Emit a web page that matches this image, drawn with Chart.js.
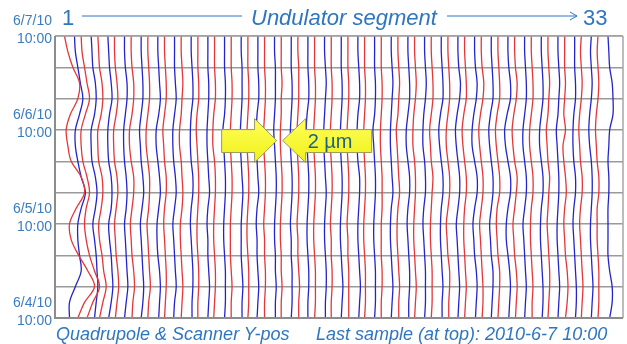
<!DOCTYPE html>
<html>
<head>
<meta charset="utf-8">
<script src="https://cdn.jsdelivr.net/npm/chart.js@4/dist/chart.umd.min.js"></script>
<style>
  html, body { margin: 0; padding: 0; background: #fff; }
  #wrap { position: relative; width: 627px; height: 344px; overflow: hidden; }
  #c { position: absolute; left: 0; top: 0; }
  .txt { position: absolute; white-space: nowrap; line-height: 1; color: #2e76c0;
         font-family: "Liberation Sans", Arial, sans-serif; }
  .it { font-style: italic; }
  svg { position: absolute; left: 0; top: 0; }
</style>
</head>
<body>
<div id="wrap">
  <canvas id="c" width="627" height="344"></canvas>
  <svg width="627" height="40">
    <line x1="82" y1="16" x2="242" y2="16" stroke="#2e76c0" stroke-width="1"/>
    <line x1="447" y1="16" x2="577" y2="16" stroke="#2e76c0" stroke-width="1"/>
    <polyline points="570,12 577,16 570,20" fill="none" stroke="#2e76c0" stroke-width="1"/>
  </svg>
  <span class="txt" style="left:62px; top:7px; font-size:22px;">1</span>
  <span class="txt it" style="left:251px; top:7px; font-size:22px;">Undulator segment</span>
  <span class="txt" style="left:583px; top:7px; font-size:22px;">33</span>
  <span class="txt it" style="left:56px; top:325px; font-size:18px;">Quadrupole &amp; Scanner Y-pos</span>
  <span class="txt it" style="left:316px; top:325px; font-size:18px;">Last sample (at top): 2010-6-7 10:00</span>
</div>
<script>
// Sample times in hours since 6/4/10 10:00 (every 4 h, oldest at the bottom)
const hours = [0, 4, 8, 12, 16, 20, 24, 28, 32, 36, 40, 44, 48, 52, 56, 60, 64, 68, 72];

// Date labels shown on the time axis (every 24 h)
const dayLabels = { 0: '6/4/10', 24: '6/5/10', 48: '6/6/10', 72: '6/7/10' };
const timeLabel = '10:00';

// Quadrupole Y-position change (µm) per undulator segment 1..33
const quadY = [
  [1.6,2.4,3.6,2.8,1.7,0.8,0.6,1.4,2.4,2.0,0.8,0.4,0.2,0.7,1.6,1.8,1.0,0.4,0.0],
  [0.7,1.4,2.2,1.6,1.0,0.6,0.4,0.6,1.0,0.7,0.2,0.0,0.0,0.5,1.0,0.7,0.4,0.1,0.0],
  [0.2,0.6,1.0,0.7,0.5,0.2,0.1,0.4,0.6,0.5,0.1,0.0,0.0,0.4,0.6,0.5,0.2,0.1,0.0],
  [0.1,0.3,0.5,0.4,0.2,0.1,0.0,0.2,0.4,0.3,0.0,-0.1,-0.1,0.2,0.4,0.3,0.1,0.0,0.0],
  [0.1,0.2,0.4,0.3,0.1,0.0,-0.1,0.1,0.3,0.3,0.0,-0.2,-0.2,0.1,0.3,0.3,0.1,0.0,0.0],
  [0.0,0.1,0.3,0.2,0.1,0.0,-0.1,0.1,0.2,0.2,0.0,-0.2,-0.2,0.0,0.2,0.2,0.1,0.0,0.0],
  [0.0,0.1,0.2,0.2,0.1,0.0,-0.1,0.0,0.2,0.2,0.0,-0.1,-0.2,0.0,0.2,0.2,0.1,0.0,0.0],
  [0.0,0.1,0.2,0.1,0.0,-0.1,-0.1,0.1,0.2,0.1,0.0,-0.2,-0.2,0.0,0.1,0.2,0.1,0.0,0.0],
  [0.0,0.0,0.1,0.1,0.0,-0.1,-0.1,0.0,0.1,0.1,0.0,-0.1,-0.2,-0.1,0.1,0.1,0.0,0.0,0.0],
  [-0.1,0.0,0.1,0.1,0.0,-0.1,-0.1,0.0,0.1,0.1,0.0,-0.2,-0.2,-0.1,0.1,0.1,0.0,0.0,0.0],
  [0.0,0.0,0.1,0.0,-0.1,-0.1,-0.1,0.0,0.1,0.1,0.0,-0.1,-0.1,0.0,0.1,0.1,0.0,0.0,0.0],
  [0.0,0.1,0.1,0.1,0.0,-0.1,-0.1,0.0,0.1,0.1,0.0,-0.1,-0.1,0.0,0.1,0.1,0.0,0.0,0.0],
  [0.0,0.0,0.1,0.1,0.0,0.0,-0.1,0.0,0.1,0.1,0.0,-0.1,-0.1,0.0,0.1,0.1,0.0,0.0,0.0],
  [0.0,0.0,0.1,0.0,0.0,-0.1,-0.1,0.0,0.1,0.1,0.0,-0.1,-0.1,0.0,0.0,0.1,0.0,0.0,0.0],
  [0.1,0.1,0.2,0.1,0.0,0.0,-0.1,0.0,0.1,0.1,0.0,-0.1,-0.1,0.0,0.1,0.1,0.1,0.0,0.0],
  [0.0,0.1,0.1,0.1,0.0,-0.1,-0.1,0.0,0.1,0.1,0.0,-0.1,-0.1,0.0,0.1,0.1,0.0,0.0,0.0],
  [0.0,0.0,0.1,0.1,0.0,0.0,-0.1,0.0,0.1,0.1,0.0,-0.1,-0.1,0.0,0.1,0.1,0.0,0.0,0.0],
  [0.1,0.1,0.1,0.1,0.0,0.0,-0.1,0.0,0.1,0.1,0.0,-0.1,-0.1,0.0,0.1,0.1,0.0,0.0,0.0],
  [0.0,0.1,0.1,0.1,0.0,-0.1,-0.1,0.0,0.1,0.1,0.0,-0.1,-0.1,0.0,0.1,0.1,0.0,0.0,0.0],
  [0.0,0.0,0.1,0.1,0.0,0.0,0.0,0.1,0.1,0.1,0.0,-0.1,-0.1,0.0,0.1,0.1,0.0,0.0,0.0],
  [0.1,0.1,0.2,0.1,0.0,-0.1,-0.1,0.0,0.2,0.1,0.0,-0.1,-0.2,0.0,0.1,0.2,0.1,0.0,0.0],
  [0.0,0.1,0.2,0.1,0.0,-0.1,-0.1,0.0,0.1,0.1,0.0,-0.2,-0.2,-0.1,0.1,0.2,0.1,0.0,0.0],
  [0.0,0.1,0.1,0.1,0.0,-0.1,-0.1,0.0,0.1,0.2,0.0,-0.1,-0.2,0.0,0.2,0.2,0.1,0.0,0.0],
  [0.1,0.1,0.2,0.2,0.0,-0.1,-0.2,0.0,0.2,0.2,0.0,-0.2,-0.2,0.0,0.2,0.2,0.1,0.0,0.0],
  [0.0,0.1,0.2,0.1,0.0,-0.1,-0.1,0.0,0.2,0.2,0.0,-0.2,-0.3,-0.1,0.2,0.2,0.1,0.0,0.0],
  [0.1,0.2,0.2,0.1,0.0,-0.1,-0.2,0.0,0.2,0.2,0.0,-0.2,-0.3,-0.1,0.2,0.3,0.1,0.0,0.0],
  [0.0,0.1,0.2,0.2,0.0,-0.1,-0.2,-0.1,0.2,0.2,0.0,-0.2,-0.3,-0.1,0.2,0.2,0.1,0.0,0.0],
  [0.1,0.2,0.3,0.2,0.0,-0.1,-0.2,0.0,0.2,0.3,0.0,-0.2,-0.3,-0.1,0.2,0.3,0.1,0.0,0.0],
  [0.1,0.1,0.2,0.1,0.0,-0.1,-0.1,0.0,0.2,0.2,0.0,-0.2,-0.2,0.0,0.2,0.2,0.1,0.0,0.0],
  [0.0,0.1,0.2,0.2,0.1,0.0,-0.1,0.0,0.1,0.2,0.0,-0.1,-0.2,0.0,0.1,0.2,0.1,0.0,0.0],
  [0.1,0.3,0.4,0.3,0.1,0.0,-0.1,0.0,0.2,0.1,-0.1,-0.2,0.1,-0.1,0.0,0.1,0.0,0.0,0.0],
  [0.0,0.1,0.2,0.1,0.0,-0.1,-0.2,-0.1,0.1,0.1,-0.1,-0.2,-0.3,-0.2,0.0,0.1,0.0,-0.1,0.0],
  [0.0,0.1,0.1,0.1,0.0,-0.1,-0.1,-0.1,0.1,0.1,-0.1,-0.2,-0.3,-0.2,0.0,0.1,0.0,-0.1,0.0]
];

// Scanner Y-position change (µm) per undulator segment 1..33
const scanY = [
  [-0.6,-0.6,0.1,0.8,0.6,0.4,0.4,0.8,1.3,0.8,0.4,0.1,0.1,0.6,1.0,0.7,0.4,0.1,0.0],
  [0.4,0.6,0.8,0.7,0.6,0.4,0.2,0.5,0.7,0.5,0.1,0.0,0.0,0.4,0.6,0.5,0.2,0.1,0.0],
  [0.1,0.4,0.6,0.5,0.4,0.2,0.1,0.4,0.5,0.4,0.1,0.0,0.0,0.2,0.5,0.4,0.2,0.1,0.0],
  [0.0,0.2,0.4,0.3,0.2,0.1,0.0,0.2,0.3,0.2,0.0,-0.1,-0.1,0.1,0.3,0.3,0.1,0.0,0.0],
  [0.0,0.2,0.3,0.2,0.1,0.0,-0.1,0.1,0.3,0.2,0.0,-0.1,-0.2,0.0,0.2,0.2,0.1,0.0,0.0],
  [0.1,0.2,0.3,0.2,0.0,-0.1,-0.1,0.1,0.3,0.2,0.0,-0.2,-0.2,0.1,0.3,0.2,0.1,0.0,0.0],
  [-0.1,0.0,0.2,0.1,0.0,-0.1,-0.2,0.0,0.2,0.1,-0.1,-0.2,-0.2,0.0,0.2,0.1,0.0,0.0,0.0],
  [0.1,0.1,0.2,0.2,0.1,0.0,-0.1,0.0,0.2,0.2,0.0,-0.1,-0.1,0.0,0.2,0.2,0.1,0.0,0.0],
  [0.0,0.1,0.2,0.1,0.0,0.0,-0.1,0.0,0.2,0.1,0.0,-0.1,-0.1,0.0,0.1,0.1,0.0,0.0,0.0],
  [0.0,0.1,0.1,0.1,0.0,-0.1,-0.1,0.0,0.1,0.1,0.0,-0.1,-0.2,0.0,0.1,0.1,0.0,0.0,0.0],
  [0.1,0.1,0.2,0.1,0.0,0.0,0.0,0.1,0.2,0.1,0.0,-0.1,-0.1,0.0,0.1,0.1,0.1,0.0,0.0],
  [-0.1,0.0,0.1,0.0,-0.1,-0.1,-0.2,-0.1,0.1,0.0,-0.1,-0.2,-0.2,-0.1,0.1,0.1,0.0,0.0,0.0],
  [0.1,0.1,0.2,0.1,0.1,0.0,0.0,0.1,0.2,0.2,0.1,0.0,-0.1,0.0,0.1,0.1,0.1,0.0,0.0],
  [0.0,0.1,0.1,0.1,0.0,0.0,-0.1,0.0,0.1,0.1,0.0,-0.1,-0.1,0.0,0.1,0.1,0.0,0.0,0.0],
  [0.0,0.0,0.1,0.1,0.0,-0.1,-0.1,0.0,0.1,0.1,0.0,-0.1,-0.2,-0.1,0.1,0.1,0.0,0.0,0.0],
  [0.1,0.1,0.2,0.2,0.1,0.0,0.0,0.1,0.2,0.1,0.0,-0.1,-0.1,0.0,0.1,0.2,0.1,0.0,0.0],
  [0.0,0.1,0.2,0.1,0.0,-0.1,-0.1,0.0,0.1,0.1,0.0,-0.1,-0.1,0.0,0.1,0.1,0.0,0.0,0.0],
  [0.1,0.2,0.3,0.2,0.1,0.0,0.0,0.1,0.2,0.2,0.0,-0.1,-0.1,0.0,0.2,0.2,0.1,0.0,0.0],
  [0.0,0.1,0.1,0.1,0.0,-0.1,-0.1,0.0,0.1,0.1,0.0,-0.1,-0.2,0.0,0.1,0.1,0.0,0.0,0.0],
  [0.0,0.1,0.2,0.1,0.0,-0.1,-0.1,0.0,0.2,0.1,0.0,-0.1,-0.1,0.0,0.1,0.2,0.1,0.0,0.0],
  [0.1,0.1,0.2,0.2,0.1,0.0,-0.1,0.0,0.2,0.2,0.0,-0.2,-0.2,0.0,0.2,0.2,0.1,0.0,0.0],
  [0.0,0.1,0.1,0.1,0.0,-0.1,-0.2,-0.1,0.1,0.1,0.0,-0.2,-0.2,-0.1,0.1,0.2,0.1,0.0,0.0],
  [0.1,0.1,0.2,0.1,0.0,-0.1,-0.1,0.0,0.2,0.2,0.0,-0.2,-0.3,-0.1,0.2,0.2,0.1,0.0,0.0],
  [0.0,0.1,0.2,0.1,0.0,-0.1,-0.2,0.0,0.2,0.2,0.0,-0.2,-0.3,-0.1,0.2,0.3,0.1,0.0,0.0],
  [0.1,0.2,0.3,0.2,0.0,-0.1,-0.2,0.0,0.3,0.3,0.0,-0.3,-0.3,-0.1,0.2,0.3,0.1,0.0,0.0],
  [0.0,0.1,0.2,0.2,0.0,-0.1,-0.2,0.0,0.2,0.2,0.0,-0.2,-0.3,-0.1,0.2,0.2,0.1,0.0,0.0],
  [0.1,0.2,0.3,0.2,0.0,-0.2,-0.2,0.0,0.3,0.3,0.0,-0.3,-0.4,-0.1,0.3,0.3,0.1,0.0,0.0],
  [0.0,0.1,0.2,0.1,0.0,-0.1,-0.2,0.0,0.2,0.2,0.0,-0.2,-0.2,0.0,0.2,0.2,0.1,0.0,0.0],
  [0.1,0.2,0.2,0.1,0.0,-0.1,-0.1,0.0,0.2,0.2,0.0,-0.2,-0.2,0.0,0.2,0.2,0.1,0.0,0.0],
  [0.0,0.1,0.2,0.1,0.0,-0.1,-0.1,0.0,0.1,0.1,0.0,-0.1,-0.2,0.0,0.1,0.2,0.1,0.0,0.0],
  [0.1,0.2,0.2,0.1,0.0,-0.1,-0.2,-0.1,0.1,0.1,-0.1,-0.2,-0.2,-0.1,0.1,0.1,0.0,0.0,0.0],
  [0.0,0.1,0.2,0.1,0.0,-0.1,-0.1,0.0,0.1,0.1,0.0,-0.2,-0.3,-0.2,0.0,0.1,0.0,-0.1,0.0],
  [0.2,0.5,0.5,0.2,0.0,0.0,0.0,0.0,0.1,0.1,0.0,0.1,0.2,0.6,0.6,0.5,0.2,0.1,0.0]
];

// Plot layout of the traces (µm on the horizontal axis)
const segmentPitch = 2.0;   // spacing between neighbouring segments
const scannerShift = 1.2;   // scanner trace sits to the right of its quadrupole trace
const quadColor = '#e5363a';
const scanColor = '#2424cc';
const axisTextColor = '#3a7cc2';

const datasets = [];
for (let k = 0; k < quadY.length; k++) {
  const base = k * segmentPitch;
  datasets.push({
    data: hours.map((h, i) => ({ x: base + quadY[k][i], y: h })),
    borderColor: quadColor
  });
  datasets.push({
    data: hours.map((h, i) => ({ x: base + scannerShift + scanY[k][i], y: h })),
    borderColor: scanColor
  });
}

// Grey frame around the plotting area
const framePlugin = {
  id: 'frame',
  afterDatasetsDraw(chart) {
    const { ctx, chartArea: a } = chart;
    ctx.save();
    ctx.lineWidth = 1.5;
    ctx.strokeStyle = '#a6a6a6';
    ctx.beginPath();
    ctx.moveTo(a.left, a.top); ctx.lineTo(a.right, a.top);
    ctx.moveTo(a.right, a.top); ctx.lineTo(a.right, a.bottom);
    ctx.stroke();
    ctx.strokeStyle = '#8c8c8c';
    ctx.lineWidth = 2;
    ctx.beginPath();
    ctx.moveTo(a.left, a.top); ctx.lineTo(a.left, a.bottom);
    ctx.lineTo(a.right, a.bottom);
    ctx.stroke();
    ctx.restore();
  }
};

// Yellow scale arrows marking the 2 µm size, placed in data units
const scaleArrows = { left: 18.85, headL: 22.8, tipL: 25.45, tipR: 26.17, headR: 28.93, right: 36.85,
                      mid: 45.3, headTop: 50.9, headBot: 39.7, bodyTop: 48.1, bodyBot: 42.25 };
const arrowPlugin = {
  id: 'scaleArrows',
  afterDatasetsDraw(chart) {
    const { ctx, scales: { x, y } } = chart;
    const A = scaleArrows;
    const px = v => x.getPixelForValue(v), py = v => y.getPixelForValue(v);
    const grad = ctx.createLinearGradient(0, py(A.headTop), 0, py(A.headBot));
    grad.addColorStop(0, '#ffff5a');
    grad.addColorStop(1, '#f0f018');
    ctx.save();
    ctx.fillStyle = grad;
    ctx.strokeStyle = '#9a9a62';
    ctx.lineWidth = 1;
    ctx.lineJoin = 'miter';
    // arrow pointing right
    ctx.beginPath();
    ctx.moveTo(px(A.left), py(A.bodyTop));
    ctx.lineTo(px(A.headL), py(A.bodyTop));
    ctx.lineTo(px(A.headL), py(A.headTop));
    ctx.lineTo(px(A.tipL), py(A.mid));
    ctx.lineTo(px(A.headL), py(A.headBot));
    ctx.lineTo(px(A.headL), py(A.bodyBot));
    ctx.lineTo(px(A.left), py(A.bodyBot));
    ctx.closePath();
    ctx.fill(); ctx.stroke();
    // arrow pointing left
    ctx.beginPath();
    ctx.moveTo(px(A.right), py(A.bodyTop));
    ctx.lineTo(px(A.headR), py(A.bodyTop));
    ctx.lineTo(px(A.headR), py(A.headTop));
    ctx.lineTo(px(A.tipR), py(A.mid));
    ctx.lineTo(px(A.headR), py(A.headBot));
    ctx.lineTo(px(A.headR), py(A.bodyBot));
    ctx.lineTo(px(A.right), py(A.bodyBot));
    ctx.closePath();
    ctx.fill(); ctx.stroke();
    ctx.fillStyle = '#1f6384';
    ctx.font = '20px "Liberation Sans", Arial, sans-serif';
    ctx.textBaseline = 'alphabetic';
    ctx.fillText('2 µm', px(A.headR) + 2, py(A.mid) + 7);
    ctx.restore();
  }
};

new Chart(document.getElementById('c'), {
  type: 'line',
  data: { datasets },
  options: {
    responsive: false,
    animation: false,
    layout: { padding: { left: 0, right: 4, top: 36, bottom: 26 } },
    plugins: { legend: { display: false }, tooltip: { enabled: false } },
    elements: {
      point: { radius: 0 },
      line: { tension: 0.35, borderWidth: 1.3, fill: false }
    },
    scales: {
      x: { type: 'linear', min: -1.14, max: 67.0, display: false },
      y: {
        type: 'linear', min: 0, max: 72,
        afterFit(s) { s.width = 55; s.paddingTop = 0; s.paddingBottom = 0; },
        border: { display: false },
        grid: { color: '#9a9a9a', lineWidth: 1.5, drawTicks: false },
        ticks: {
          stepSize: 8, autoSkip: false, padding: 3, labelOffset: 3, color: axisTextColor,
          font: { family: '"Liberation Sans", Arial, sans-serif', size: 14, lineHeight: 1.25 },
          callback: v => dayLabels[v] ? [dayLabels[v], timeLabel, ''] : ''
        }
      }
    }
  },
  plugins: [framePlugin, arrowPlugin]
});
</script>
</body>
</html>
